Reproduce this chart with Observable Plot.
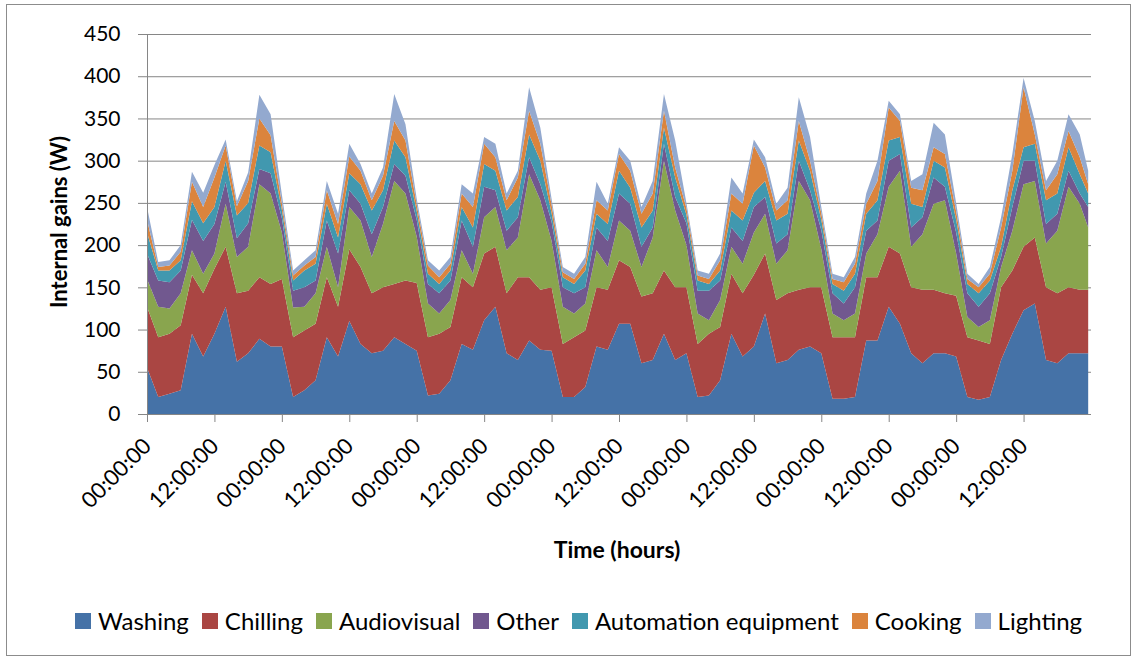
<!DOCTYPE html>
<html>
<head>
<meta charset="utf-8">
<script src="https://cdn.jsdelivr.net/npm/d3@7"></script>
<script src="https://cdn.jsdelivr.net/npm/@observablehq/plot@0.6"></script>
<style>
  html, body { margin: 0; padding: 0; background: #fff; }
  #frame { position: absolute; left: 6px; top: 4px; width: 1125px; height: 652px; border: 1px solid #8c8c8c; box-sizing: border-box; }
  #chart { position: absolute; left: 0; top: 0; }
  #chart svg text { fill: #000; }
  #chart svg g[aria-label="x-axis tick label"] text, #chart svg g[aria-label="x-axis"] text { font-size: 22px; }
  .ytitle { position: absolute; left: 58px; top: 222px; transform: translate(-50%, -50%) rotate(-90deg); font: bold 22px Lato, sans-serif; white-space: nowrap; color: #000; }
  .xtitle { position: absolute; left: 617px; top: 549px; transform: translate(-50%, -50%); font: bold 23px Lato, sans-serif; white-space: nowrap; color: #000; }
  #legend { position: absolute; left: 75px; top: 606px; display: flex; align-items: center; font: 24px Lato, sans-serif; color: #000; white-space: nowrap; }
  #legend .item { display: flex; align-items: center; margin-right: 13px; }
  #legend .sw { width: 16px; height: 16px; margin-right: 7px; }
</style>
</head>
<body>
<div id="frame"></div>
<div id="chart"></div>
<div class="ytitle">Internal gains (W)</div>
<div class="xtitle">Time (hours)</div>
<div id="legend"></div>
<script>
const seriesNames = ["Washing", "Chilling", "Audiovisual", "Other", "Automation equipment", "Cooking", "Lighting"];
const seriesColors = ["#4572A7", "#AA4643", "#89A54E", "#71588F", "#4198AF", "#DB843D", "#93A9CF"];

const hours = [
  0,2,4,6,8,10,12,14,16,18,20,22,
  24,26,28,30,32,34,36,38,40,42,44,46,
  48,50,52,54,56,58,60,62,64,66,68,70,
  72,74,76,78,80,82,84,86,88,90,92,94,
  96,98,100,102,104,106,108,110,112,114,116,118,
  120,122,124,126,128,130,132,134,136,138,140,142,
  144,146,148,150,152,154,156,158,160,162,164,166,
  167.5];

const washing = [
  55,20,24,28,95,68,95,127,62,72,89,80,
  80,20,28,40,91,68,110,83,72,75,91,83,
  75,22,24,40,83,76,111,127,72,64,87,76,
  75,20,20,32,80,76,107,107,60,64,95,64,
  72,20,22,40,95,68,80,119,60,64,76,80,
  72,18,18,20,87,87,127,107,72,60,72,72,
  68,20,17,20,64,95,123,131,64,60,72,72,
  72];
const chilling = [
  72,71,71,77,70,75,77,71,81,74,73,74,
  80,71,71,67,71,59,85,91,71,75,63,75,
  80,69,71,63,79,74,79,71,71,98,75,71,
  75,63,71,67,70,71,75,67,79,79,75,86,
  78,63,73,63,71,75,85,71,75,79,71,70,
  78,73,73,71,75,75,71,83,78,87,75,71,
  72,71,70,63,86,75,75,78,86,83,78,75,
  75];
const audiovisual = [
  33,36,30,38,29,23,18,51,43,52,110,107,
  55,35,28,36,36,23,50,55,43,75,122,103,
  55,40,24,32,32,16,43,47,51,47,122,106,
  55,44,28,32,44,27,47,43,35,66,130,91,
  50,36,16,32,32,35,50,47,43,51,129,103,
  45,28,20,28,28,51,71,98,48,66,102,110,
  50,24,16,28,24,47,74,67,52,74,119,102,
  74];
const other = [
  30,31,31,27,36,39,35,26,22,28,18,24,
  17,20,23,15,31,40,20,20,27,20,20,21,
  20,23,24,23,35,32,36,20,23,24,20,19,
  23,23,24,19,27,31,32,32,24,12,20,16,
  26,27,35,23,23,27,30,20,24,19,24,12,
  23,24,20,31,27,16,31,20,23,20,31,16,
  25,28,24,32,12,28,28,24,23,20,19,12,
  24];
const automation = [
  25,12,14,12,22,21,20,25,27,24,28,25,
  10,12,20,20,20,19,20,23,28,20,28,22,
  10,12,11,12,16,23,27,23,24,24,27,28,
  10,12,11,20,16,20,27,19,23,20,19,23,
  10,12,8,12,20,24,17,19,27,24,24,23,
  12,11,15,16,20,24,24,20,28,12,20,23,
  15,11,16,15,12,20,16,20,28,24,28,23,
  16];
const cooking = [
  15,4,6,10,23,19,35,18,11,26,32,20,
  8,6,6,8,16,16,20,16,12,17,23,20,
  8,10,8,8,16,24,24,16,12,23,28,20,
  10,6,6,8,16,16,20,20,16,20,20,12,
  8,6,6,12,20,20,56,16,12,16,23,12,
  8,6,10,12,12,23,39,19,19,20,16,16,
  10,6,7,8,23,23,71,11,12,23,19,20,
  11];
const lighting = [
  15,6,6,8,12,17,15,7,6,10,28,25,
  10,6,6,8,11,12,15,8,8,10,32,19,
  7,6,8,8,11,16,8,16,8,8,28,19,
  7,6,6,8,22,8,8,12,8,15,20,32,
  6,6,6,8,19,12,7,12,8,15,28,28,
  7,6,6,8,12,24,8,8,8,19,29,23,
  10,6,4,8,12,20,11,16,11,16,20,27,
  16];

const yTicks = [0, 50, 100, 150, 200, 250, 300, 350, 400, 450];
const xTicks = [0, 12, 24, 36, 48, 60, 72, 84, 96, 108, 120, 132, 144, 156];
const xTickLabels = ["00:00:00","12:00:00","00:00:00","12:00:00","00:00:00","12:00:00","00:00:00",
                     "12:00:00","00:00:00","12:00:00","00:00:00","12:00:00","00:00:00","12:00:00"];

const seriesValues = [washing, chilling, audiovisual, other, automation, cooking, lighting];
const rows = [];
seriesNames.forEach((name, i) => {
  hours.forEach((h, j) => rows.push({hour: h, series: name, value: seriesValues[i][j]}));
});
const labelMap = new Map(xTicks.map((t, i) => [t, xTickLabels[i]]));

const chart = Plot.plot({
  width: 1138,
  height: 580,
  marginLeft: 147,
  marginRight: 47,
  marginTop: 34,
  marginBottom: 166,
  style: {color: "#868686", fontFamily: "Lato, sans-serif", fontSize: "21px", background: "transparent", overflow: "visible"},
  x: {domain: [0, 168], ticks: xTicks, tickFormat: d => labelMap.get(d), tickRotate: -45, tickSize: 8, tickPadding: 20, label: null},
  y: {domain: [0, 450], ticks: yTicks, tickSize: 9, tickPadding: 18, label: null},
  color: {domain: seriesNames, range: seriesColors},
  marks: [
    Plot.ruleY(yTicks, {stroke: "#868686", strokeWidth: 1}),
    Plot.areaY(rows, {x: "hour", y: "value", z: "series", fill: "series", order: seriesNames}),
    Plot.ruleX([0], {stroke: "#868686", strokeWidth: 1}),
    Plot.ruleY([0], {stroke: "#868686", strokeWidth: 1})
  ]
});
document.getElementById("chart").appendChild(chart);

const legend = document.getElementById("legend");
seriesNames.forEach((name, i) => {
  const item = document.createElement("div");
  item.className = "item";
  const sw = document.createElement("div");
  sw.className = "sw";
  sw.style.background = seriesColors[i];
  const tx = document.createElement("span");
  tx.textContent = name;
  item.appendChild(sw);
  item.appendChild(tx);
  legend.appendChild(item);
});
</script>
</body>
</html>
